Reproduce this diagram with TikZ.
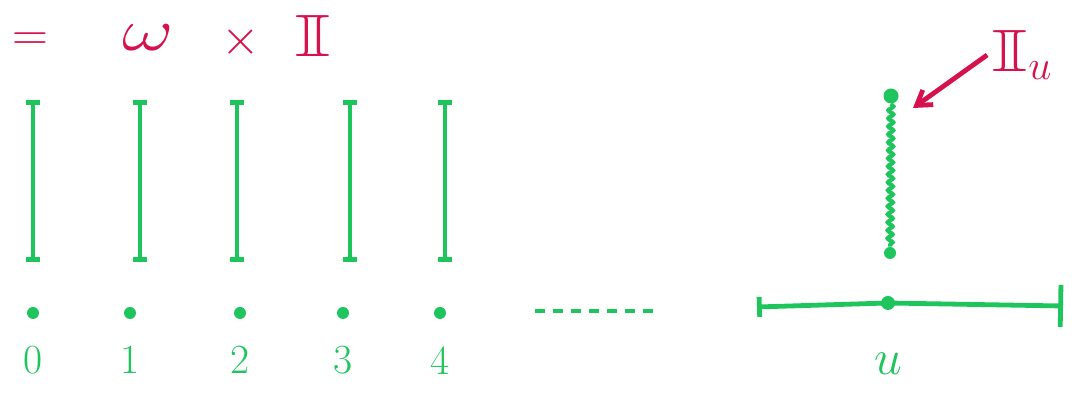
\documentclass[tikz,border=0pt]{standalone}
\usepackage{amssymb}
\usepackage{graphicx}
\usetikzlibrary{arrows.meta,positioning,decorations.pathmorphing}
\definecolor{leaf}{HTML}{1EC45C}
\definecolor{crimson}{HTML}{D6124E}
\newcommand\wideI{\scalebox{1.9}[1.2]{$\mathbb{I}$}}
\newcommand\bigsym[1]{\scalebox{1.6}[1.2]{$#1$}}

\begin{document}
\begin{tikzpicture}[x=0.5pt,y=-0.5pt,
    bar/.style={leaf,line width=2.4pt,{Bar[width=7pt]}-{Bar[width=7pt]}},
    pt/.style={circle,fill=leaf,inner sep=0pt,minimum size=6pt},
    num/.style={text=leaf,font=\huge},
    sym/.style={text=crimson,font=\Huge,inner sep=0pt}]
  \useasboundingbox (0,0) rectangle (1078,394);
  % product of intervals
  \node[sym] (eq) at (30,42) {$=$};
  \node[sym] (om) at (148,38) {\bigsym{\omega}};
  \node[sym] (tm) at (241,42) {$\times$};
  \node[sym] (ii) at (313,36) {\wideI};
  % intervals over the points
  \foreach \i/\bx/\dx in {0/33/33,1/140/130,2/237/240,3/350/343,4/445/440}{
    \coordinate (t\i) at (\bx,100);
    \coordinate (b\i) at (\bx,262);
    \draw[bar] (t\i)--(b\i);
    \node[pt] (d\i) at (\dx,313) {};
    \node[num,below=10pt of d\i] (n\i) {\i};}
  \coordinate (g0) at (535,311);
  \coordinate (g1) at (655,311);
  \draw[leaf,line width=2.4pt,dash pattern=on 5pt off 4pt] (g0)--(g1);
  % the interval at u
  \node[pt,minimum size=7pt] (du) at (888,303) {};
  \coordinate (ul) at (757,307);
  \coordinate (ur) at (1063,306);
  \draw[leaf,line width=2.4pt,{Bar[width=10pt]}-{Bar[width=21pt]}] (ul)--(du.center)--(ur);
  \node[text=leaf,font=\Huge,below=18pt of du] (lu) {$u$};
  % the wavy interval I_u
  \node[pt,minimum size=7.5pt] (wt) at (891,96) {};
  \node[pt,minimum size=6pt] (wb) at (890,253) {};
  \draw[leaf,line width=2pt,decorate,decoration={snake,segment length=4pt,amplitude=1.3pt}] (wt)--(wb);
  \node[sym,inner sep=2pt] (Iu) at (1022,55) {\wideI$_u$};
  \coordinate (tip) at (913,108);
  \draw[crimson,line width=2.4pt,-{Straight Barb[length=7pt,width=9pt]}] (Iu.west)--(tip);
\end{tikzpicture}
\end{document}
